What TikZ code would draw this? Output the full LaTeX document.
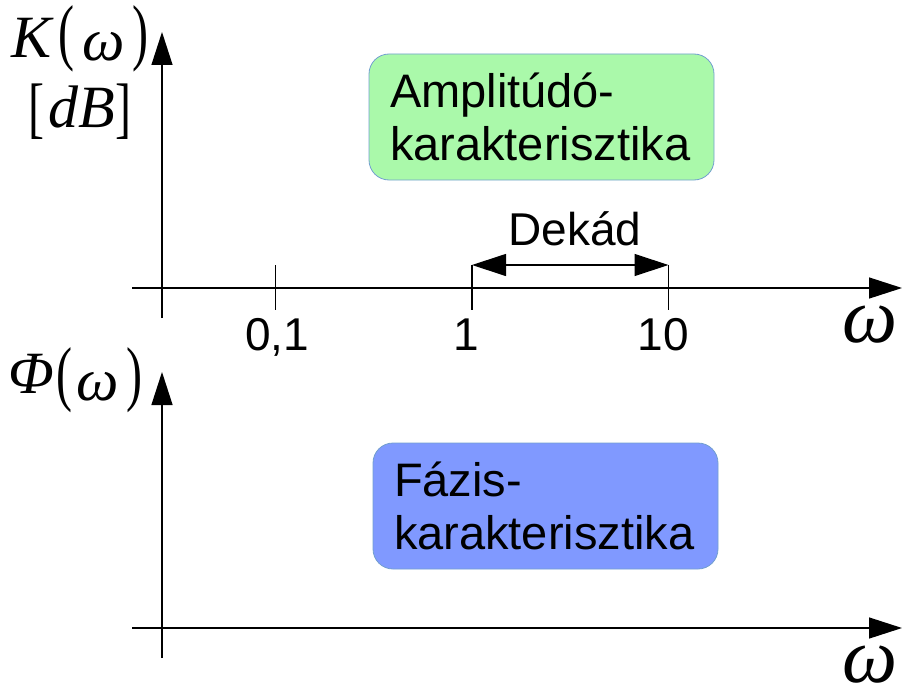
\documentclass[tikz,border=0pt]{standalone}
\usepackage{graphicx}
\usepackage{fontspec}
\setmainfont{Liberation Sans}
\newfontfamily\mathserif{Liberation Serif}
\usetikzlibrary{arrows.meta}
\definecolor{ampfill}{RGB}{170,249,170}
\definecolor{phasefill}{RGB}{128,153,255}
\definecolor{boxline}{RGB}{114,159,207}
% thin, stretched delimiters
\newcommand{\tallglyph}[2]{\scalebox{1}[#1]{\fontsize{48}{48}\selectfont\mathserif\upshape #2}}
\begin{document}
\begin{tikzpicture}[x=1pt,y=-1pt,
  axis/.style={line width=1.4pt,-{Triangle[length=33pt,width=21pt]}},
  tickline/.style={line width=1.2pt},
  span/.style={line width=1.2pt,{Triangle[length=34pt,width=22pt]}-{Triangle[length=34pt,width=22pt]}},
  num/.style={font=\fontsize{46}{46}\selectfont,inner sep=0pt,anchor=base},
  sym/.style={font=\fontsize{60}{60}\selectfont\mathserif\itshape,inner sep=0pt,anchor=base},
  delim/.style={inner sep=0pt,anchor=center},
  omega/.style={font=\fontsize{78}{78}\selectfont\mathserif\itshape,inner sep=0pt,anchor=base},
  chart/.style={draw=boxline,line width=0.8pt,rounded corners=20pt,
    minimum width=345pt,minimum height=126pt,text width=303pt,inner xsep=21pt,
    align=left,font=\fontsize{47}{53}\selectfont}]
\useasboundingbox (0,0) rectangle (907,693);

% amplitude plot axes
\coordinate (k0) at (162,318);
\coordinate (k1) at (162,32);
\coordinate (w0) at (132,288);
\coordinate (w1) at (902,288);
\draw[axis] (k0) -- (k1);
\draw[axis] (w0) -- (w1);

% decade ticks
\coordinate (t01a) at (275.5,265); \coordinate (t01b) at (275.5,310);
\coordinate (t1a) at (472,265);    \coordinate (t1b) at (472,310);
\coordinate (t10a) at (668.5,265); \coordinate (t10b) at (668.5,310);
\draw[tickline] (t01a) -- (t01b);
\draw[tickline] (t1a) -- (t1b);
\draw[tickline] (t10a) -- (t10b);
\draw[span] (t1a) -- (t10a);

\node[num] (l01) at (277,350) {0,1};
\node[num] (l1) at (466,350) {1};
\node[num] (l10) at (663,350) {10};
\node[num] (dek) at (575,245) {Dekád};

% K(omega) [dB]
\node[sym] (kk) at (32,58) {K};
\node[delim] (kl) at (66,38.5) {\tallglyph{1.53}{(}};
\node[sym] (kw) at (104,60) {ω};
\node[delim] (kr) at (140,38.5) {\tallglyph{1.53}{)}};
\node[delim] (dbl) at (36,111.5) {\tallglyph{1.4}{[}};
\node[sym] (db) at (82,127) {dB};
\node[delim] (dbr) at (123,111.5) {\tallglyph{1.4}{]}};
\node[omega] (wlab1) at (870,342) {ω};

\node[chart,fill=ampfill] (amp) at (541.5,117) {Amplitúdó-\\karakterisztika};

% phase plot axes
\coordinate (p0) at (162,658);
\coordinate (p1) at (162,372);
\coordinate (v0) at (132,628);
\coordinate (v1) at (902,628);
\draw[axis] (p0) -- (p1);
\draw[axis] (v0) -- (v1);

% Phi(omega)
\node[sym] (ph) at (31,393) {Φ};
\node[delim] (pl) at (64,380) {\tallglyph{1.5}{(}};
\node[sym] (pw) at (98,400) {ω};
\node[delim] (pr) at (134,380) {\tallglyph{1.5}{)}};
\node[omega] (wlab2) at (870,682) {ω};

\node[chart,fill=phasefill] (phase) at (545.5,506) {Fázis-\\karakterisztika};
\end{tikzpicture}
\end{document}
